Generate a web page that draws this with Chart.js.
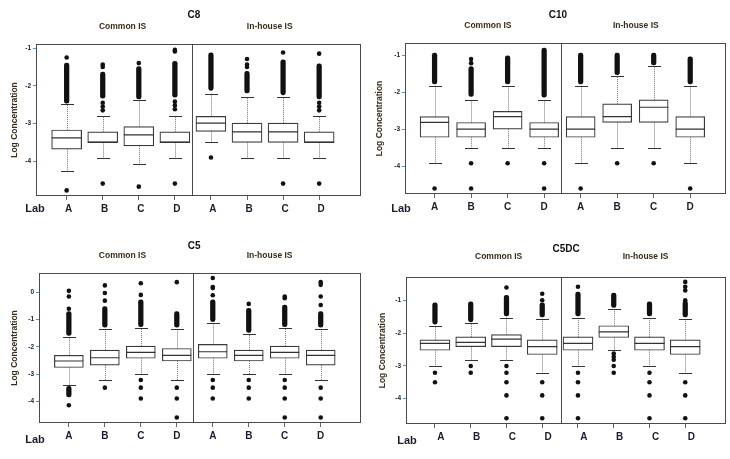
<!DOCTYPE html>
<html>
<head>
<meta charset="utf-8">
<script src="https://cdn.jsdelivr.net/npm/chart.js@4.4.1/dist/chart.umd.min.js"></script>
<style>
  html, body { margin: 0; padding: 0; background: #fff; }
  #wrap { position: relative; width: 730px; height: 459px; }
  canvas { position: absolute; }
</style>
</head>
<body>
<div id="wrap">
  <canvas id="c8" width="365" height="230" style="left:0;top:0"></canvas>
  <canvas id="c10" width="365" height="230" style="left:365px;top:0"></canvas>
  <canvas id="c5" width="365" height="229" style="left:0;top:230px"></canvas>
  <canvas id="c5dc" width="365" height="229" style="left:365px;top:230px"></canvas>
</div>
<script>
// lab order: common IS A-D, then in-house IS A-D
const labs = ['A', 'B', 'C', 'D', 'A', 'B', 'C', 'D'];

// ---- C8 ----
const c8Ticks = [-1, -2, -3, -4];
const c8Q1 = [-3.68, -3.50, -3.59, -3.50, -3.21, -3.50, -3.50, -3.50];
const c8Med = [-3.38, -3.50, -3.30, -3.50, -2.99, -3.22, -3.22, -3.50];
const c8Q3 = [-3.17, -3.22, -3.08, -3.22, -2.81, -2.99, -2.99, -3.22];
const c8Lo = [-4.26, -3.90, -4.08, -3.90, -3.50, -3.90, -3.90, -3.90];
const c8Hi = [-2.49, -2.81, -2.37, -2.81, -2.21, -2.31, -2.31, -2.81];
const c8Dense = [[[-2.46, -1.40]], [[-2.33, -1.64]], [[-2.35, -1.49]], [[-2.30, -1.35]],
                 [[-2.12, -1.13]], [[-2.19, -1.62]], [[-2.24, -1.31]], [[-2.35, -1.42]]];
const c8Out = [[-1.25, -4.77], [-2.45, -2.55, -2.65, -1.50, -1.44, -4.59], [-1.40, -4.67],
               [-2.42, -2.52, -2.62, -1.09, -1.05, -4.59], [-3.90], [-1.50, -1.44, -1.29],
               [-1.12, -4.59], [-2.45, -2.55, -2.65, -1.15, -4.59]];

// ---- C10 ----
const c10Ticks = [-1, -2, -3, -4];
const c10Q1 = [-3.22, -3.22, -3.00, -3.22, -3.22, -2.82, -2.82, -3.22];
const c10Med = [-2.82, -3.00, -2.66, -3.00, -3.00, -2.66, -2.41, -3.00];
const c10Q3 = [-2.66, -2.82, -2.52, -2.82, -2.66, -2.32, -2.21, -2.66];
const c10Lo = [-3.92, -3.50, -3.50, -3.50, -3.92, -3.50, -3.50, -3.92];
const c10Hi = [-1.83, -2.21, -1.83, -2.21, -1.83, -1.56, -1.31, -1.83];
const c10Dense = [[[-1.78, -0.95]], [[-2.12, -1.31]], [[-1.78, -1.02]], [[-2.14, -0.81]],
                  [[-1.78, -0.95]], [[-1.53, -0.95]], [[-1.27, -0.95]], [[-1.78, -1.05]]];
const c10Out = [[-4.60], [-1.22, -1.11, -3.92, -4.60], [-3.92], [-3.92, -4.60],
                [-4.60], [-3.92], [-3.92], [-4.60]];

// ---- C5 ----
const c5Ticks = [0, -1, -2, -3, -4];
const c5Q1 = [-2.76, -2.67, -2.42, -2.52, -2.42, -2.52, -2.42, -2.67];
const c5Med = [-2.52, -2.40, -2.20, -2.31, -2.18, -2.31, -2.20, -2.31];
const c5Q3 = [-2.31, -2.12, -1.97, -2.06, -1.91, -2.12, -1.97, -2.12];
const c5Lo = [-3.41, -3.22, -3.00, -3.22, -3.00, -3.00, -3.00, -3.22];
const c5Hi = [-1.64, -1.34, -1.32, -1.34, -1.13, -1.53, -1.32, -1.34];
const c5Dense = [[[-1.58, -0.70], [-3.84, -3.45]], [[-1.28, -0.52]], [[-1.26, -0.27]], [[-1.28, -0.70]],
                 [[-1.07, -0.27]], [[-1.47, -0.58]], [[-1.26, -0.46]], [[-1.28, -0.70]]];
const c5Out = [[-0.60, -0.15, 0.06, -4.15], [-0.30, -0.02, 0.26, -3.50], [-0.09, 0.34, -3.22, -3.50, -3.90],
               [0.38, -3.50, -3.90, -4.60], [-0.10, 0.16, 0.20, 0.53, -3.22, -3.50, -3.90],
               [-0.42, -3.22, -3.50, -3.90], [-0.21, -0.15, -3.22, -3.50, -3.90, -4.60],
               [-0.46, -0.15, 0.28, 0.38, -3.50, -3.90, -4.60]];

// ---- C5DC ----
const c5dcTicks = [-1, -2, -3, -4];
const c5dcQ1 = [-2.52, -2.41, -2.41, -2.65, -2.52, -2.13, -2.52, -2.65];
const c5dcMed = [-2.31, -2.28, -2.18, -2.41, -2.31, -1.96, -2.31, -2.41];
const c5dcQ3 = [-2.20, -2.11, -2.04, -2.20, -2.11, -1.77, -2.11, -2.20];
const c5dcLo = [-3.00, -2.81, -2.81, -3.21, -3.00, -2.52, -3.00, -3.21];
const c5dcHi = [-1.77, -1.70, -1.52, -1.56, -1.52, -1.26, -1.52, -1.56];
const c5dcDense = [[[-1.72, -1.07]], [[-1.65, -1.04]], [[-1.47, -0.84]], [[-1.50, -1.07]],
                   [[-1.47, -0.74]], [[-1.21, -0.77]], [[-1.47, -1.04]], [[-1.50, -1.02]]];
const c5dcOut = [[-3.21, -3.50], [-3.00, -3.21], [-0.60, -3.00, -3.21, -3.50, -3.90, -4.60],
                 [-0.99, -0.79, -3.50, -3.90, -4.60], [-0.58, -3.21, -3.50, -3.90, -4.60],
                 [-2.62, -2.72, -2.81, -3.00, -3.21], [-3.21, -3.50, -3.90, -4.60],
                 [-0.99, -0.69, -0.58, -0.43, -3.50, -3.90, -4.60]];

const FONT = "'Liberation Sans', Arial, sans-serif";

// whiskers, caps, medians, frame and header texts
const boxPlugin = {
  id: 'boxplot',
  beforeDatasetsDraw(chart, args, o) {
    const { ctx } = chart;
    const x = chart.scales.x, y = chart.scales.y;
    ctx.save();
    o.q1.forEach((q1, i) => {
      const px = Math.round(x.getPixelForValue(i + 1)) + 0.5;
      ctx.strokeStyle = '#777';
      ctx.lineWidth = 1;
      ctx.setLineDash([1, 1]);
      ctx.beginPath();
      ctx.moveTo(px, y.getPixelForValue(o.q3[i]));
      ctx.lineTo(px, y.getPixelForValue(o.hi[i]));
      ctx.moveTo(px, y.getPixelForValue(q1));
      ctx.lineTo(px, y.getPixelForValue(o.lo[i]));
      ctx.stroke();
      ctx.setLineDash([]);
      ctx.strokeStyle = '#333';
      ctx.beginPath();
      [o.hi[i], o.lo[i]].forEach(v => {
        const py = Math.round(y.getPixelForValue(v)) + 0.5;
        ctx.moveTo(px - 6.5, py);
        ctx.lineTo(px + 6.5, py);
      });
      ctx.stroke();
    });
    ctx.restore();
  },
  afterDatasetsDraw(chart, args, o) {
    const { ctx, chartArea: a } = chart;
    const x = chart.scales.x, y = chart.scales.y;
    ctx.save();
    ctx.strokeStyle = '#333';
    ctx.lineWidth = 1.2;
    ctx.beginPath();
    o.med.forEach((m, i) => {
      const px = x.getPixelForValue(i + 1);
      const py = y.getPixelForValue(m);
      ctx.moveTo(px - o.boxW / 2, py);
      ctx.lineTo(px + o.boxW / 2, py);
    });
    ctx.stroke();
    ctx.strokeStyle = '#4a4a4a';
    ctx.lineWidth = 1;
    ctx.strokeRect(a.left + 0.5, a.top + 0.5, a.right - a.left - 1, a.bottom - a.top - 1);
    const dx = Math.round(x.getPixelForValue(o.divider)) + 0.5;
    ctx.beginPath();
    ctx.moveTo(dx, a.top);
    ctx.lineTo(dx, a.bottom);
    ctx.stroke();
    ctx.restore();
  },
  afterDraw(chart, args, o) {
    const { ctx, chartArea: a } = chart;
    const x = chart.scales.x;
    ctx.save();
    ctx.textAlign = 'center';
    ctx.textBaseline = 'middle';
    ctx.fillStyle = '#111';
    ctx.font = 'bold 10px ' + FONT;
    ctx.fillText(o.title, x.getPixelForValue(o.titleX), o.titleY);
    ctx.fillStyle = '#3a2c18';
    ctx.font = 'bold 8.5px ' + FONT;
    ctx.fillText('Common IS', x.getPixelForValue(o.groupX[0]), o.groupY);
    ctx.fillText('In-house IS', x.getPixelForValue(o.groupX[1]), o.groupY);
    ctx.fillStyle = '#1c1c30';
    ctx.font = 'bold 11px ' + FONT;
    ctx.fillText('Lab', a.left + o.labDx, o.labY);
    ctx.restore();
  }
};

function makePanel(id, ticks, q1, med, q3, lo, hi, dense, out, view) {
  const canvas = document.getElementById(id);
  const boxes = q1.map((v, i) => ({ x: i + 1, y: [v, q3[i]] }));
  const bands = [];
  dense.forEach((list, i) => list.forEach(b => bands.push({ x: i + 1, y: b })));
  const points = [];
  out.forEach((list, i) => list.forEach(v => points.push({ x: i + 1, y: v })));

  return new Chart(canvas.getContext('2d'), {
    type: 'bar',
    data: {
      datasets: [
        {
          type: 'scatter',
          data: points,
          pointRadius: 2.3,
          pointBackgroundColor: '#111',
          pointBorderWidth: 0
        },
        {
          data: bands,
          grouped: false,
          barThickness: 4.6,
          backgroundColor: '#111',
          borderWidth: 0,
          borderRadius: 2.3,
          borderSkipped: false
        },
        {
          data: boxes,
          grouped: false,
          barThickness: view.boxW,
          backgroundColor: '#fff',
          borderColor: '#3a3a3a',
          borderWidth: 1.2,
          borderSkipped: false
        }
      ]
    },
    options: {
      responsive: false,
      animation: false,
      layout: { padding: { top: view.padTop, right: view.padRight, left: 0, bottom: 0 } },
      plugins: {
        legend: { display: false },
        tooltip: { enabled: false },
        boxplot: {
          q1: q1, q3: q3, med: med, lo: lo, hi: hi,
          boxW: view.boxW,
          divider: view.divider,
          title: view.title, titleX: view.titleX, titleY: view.titleY,
          groupX: view.groupX, groupY: view.groupY,
          labDx: view.labDx, labY: view.labY
        }
      },
      scales: {
        x: {
          type: 'linear',
          min: view.xMin,
          max: view.xMax,
          offset: false,
          afterBuildTicks: s => { s.ticks = labs.map((l, i) => ({ value: i + 1 })); },
          afterFit: s => { s.height = view.xHeight; },
          border: { display: false },
          grid: { offset: false, drawOnChartArea: false, tickLength: 4, color: '#666' },
          ticks: {
            autoSkip: false,
            maxRotation: 0,
            padding: 3,
            labelOffset: view.labelShift,
            color: '#1c1c30',
            font: { family: FONT, size: 10, weight: 'bold' },
            callback: (v, i) => labs[i]
          }
        },
        y: {
          min: view.yMin,
          max: view.yMax,
          afterBuildTicks: s => { s.ticks = ticks.map(v => ({ value: v })); },
          afterFit: s => { s.width = view.yWidth; },
          border: { display: false },
          grid: { drawOnChartArea: false, tickLength: 3, color: '#5b8fc7' },
          ticks: {
            padding: 2,
            color: '#222',
            font: { family: FONT, size: 6.5, weight: 'bold' },
            callback: v => String(v)
          },
          title: {
            display: true,
            text: 'Log Concentration',
            color: '#3a2c18',
            padding: { top: view.titlePad, bottom: 0 },
            font: { family: FONT, size: 8.5, weight: 'bold' }
          }
        }
      }
    },
    plugins: [boxPlugin]
  });
}

makePanel('c8', c8Ticks, c8Q1, c8Med, c8Q3, c8Lo, c8Hi, c8Dense, c8Out, {
  xMin: 0.15, xMax: 9.16, yMin: -4.918, yMax: -0.894, divider: 4.47,
  padTop: 44, padRight: 2, yWidth: 36, xHeight: 34, boxW: 30, titlePad: 10,
  title: 'C8', titleX: 4.53, titleY: 15, groupX: [2.55, 6.63], groupY: 27,
  labDx: -1, labY: 209, labelShift: 2
});

makePanel('c10', c10Ticks, c10Q1, c10Med, c10Q3, c10Lo, c10Hi, c10Dense, c10Out, {
  xMin: 0.19, xMax: 8.98, yMin: -4.75, yMax: -0.676, divider: 4.46,
  padTop: 43, padRight: 4, yWidth: 40, xHeight: 36, boxW: 29, titlePad: 10,
  title: 'C10', titleX: 4.38, titleY: 15, groupX: [2.46, 6.51], groupY: 26,
  labDx: -4, labY: 209, labelShift: 0
});

makePanel('c5', c5Ticks, c5Q1, c5Med, c5Q3, c5Lo, c5Hi, c5Dense, c5Out, {
  xMin: 0.17, xMax: 9.12, yMin: -4.80, yMax: 0.716, divider: 4.45,
  padTop: 43, padRight: 2, yWidth: 39, xHeight: 36, boxW: 29, titlePad: 10,
  title: 'C5', titleX: 4.48, titleY: 16, groupX: [2.49, 6.58], groupY: 26,
  labDx: -4, labY: 210, labelShift: 0
});

makePanel('c5dc', c5dcTicks, c5dcQ1, c5dcMed, c5dcQ3, c5dcLo, c5dcHi, c5dcDense, c5dcOut, {
  xMin: 0.19, xMax: 9.14, yMin: -4.775, yMax: -0.28, divider: 4.53,
  padTop: 47, padRight: 2, yWidth: 41, xHeight: 35, boxW: 30, titlePad: 13,
  title: 'C5DC', titleX: 4.67, titleY: 19, groupX: [2.78, 6.89], groupY: 27,
  labDx: 1, labY: 211, labelShift: 6
});
</script>
</body>
</html>
